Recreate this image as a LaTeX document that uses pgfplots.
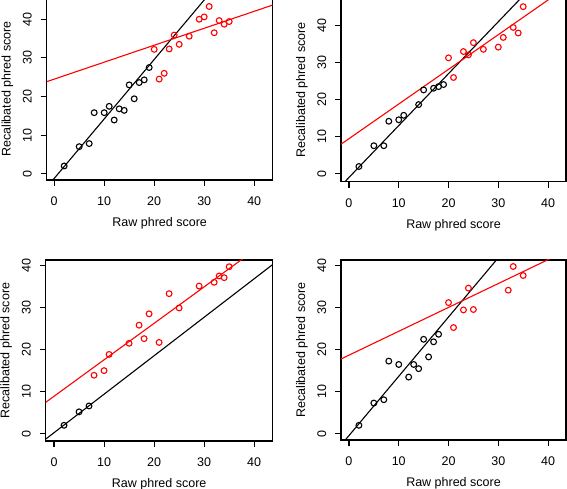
\documentclass[border=0pt]{standalone}
\usepackage{fontspec}
\setmainfont{Liberation Sans}
\usepackage{pgfplots}
\pgfplotsset{compat=1.18}
\pgfplotsset{
  panel/.style={
    scale only axis,
    anchor=south west,
    axis line style={line width=1.1bp},
    tick style={line width=1.1bp, black},
    tick align=outside,
    major tick length=6bp,
    xtick pos=left, ytick pos=left,
    xtick={0,10,20,30,40}, ytick={0,10,20,30,40},
    /pgf/number format/assume math mode=true,
    tick label style={font=\fontsize{12.5bp}{15bp}\selectfont},
    xticklabel style={anchor=center, yshift=-15.5bp},
    yticklabel style={anchor=center, xshift=-13.3bp, rotate=90},
    label style={font=\fontsize{12.5bp}{15bp}\selectfont},
    xlabel={Raw phred score},
    ylabel={Recalibated phred score},
    xlabel style={at={(axis description cs:0.5,0)}, anchor=center, yshift=-43.5bp},
    ylabel style={at={(axis description cs:-0.174,0.5)}, anchor=center},
  },
  pb/.style={black, only marks, mark=o, mark size=2.9bp, mark options={line width=1.1bp}},
  pr/.style={red, only marks, mark=o, mark size=2.9bp, mark options={line width=1.1bp}},
  lb/.style={black, line width=1.1bp, no marks},
  lr/.style={red, line width=1.1bp, no marks},
}
\begin{document}
\begin{tikzpicture}
\path[use as bounding box] (0,0) rectangle (567bp,489bp);
% Panel 1 (top left)
\begin{axis}[panel, at={(46.7bp,309bp)}, width=226bp, height=182bp,
  xmin=-1.5, xmax=43.7, ymin=-1.63, ymax=45.5]
\addplot[pb] coordinates {(2,2) (5,7.0) (7,7.8) (8,15.8) (10,15.8) (11,17.45) (12,13.9) (13,16.8) (14,16.4) (15,23.0) (16,19.4) (17,23.6) (18,24.3) (19,27.5)};
\addplot[pr] coordinates {(20,32.2) (21,24.5) (22,26.0) (23,32.3) (24,35.9) (25,33.5) (27,35.6) (29,40.0) (30,40.6) (31,43.3) (32,36.5) (33,39.65) (34,38.7) (35,39.4)};
\addplot[lb] coordinates {(-5,-8.92) (50,75.78)};
\addplot[lr] coordinates {(-5,22.295) (50,46.44)};
\end{axis}
% Panel 2 (top right)
\begin{axis}[panel, at={(341bp,307.3bp)}, width=225bp, height=183.7bp,
  xmin=-1.6, xmax=43.6, ymin=-2.1, ymax=47.44]
\addplot[pb] coordinates {(2,2) (5,7.6) (7,7.6) (8,14.2) (10,14.6) (11,15.8) (14,18.7) (15,22.65) (17,23.1) (18,23.55) (19,24.1)};
\addplot[pr] coordinates {(20,31.3) (21,26.0) (23,33.0) (24,32.1) (25,35.4) (27,33.6) (30,34.2) (31,36.8) (33,39.5) (34,38.0) (35,45.1)};
\addplot[lb] coordinates {(-5,-7.96) (50,69.04)};
\addplot[lr] coordinates {(-5,4.825) (50,56.25)};
\end{axis}
% Panel 3 (bottom left)
\begin{axis}[panel, at={(45.7bp,48bp)}, width=227bp, height=181bp,
  xmin=-1.66, xmax=43.7, ymin=-1.73, ymax=41.3]
\addplot[pb] coordinates {(2,2) (5,5.2) (7,6.6)};
\addplot[pr] coordinates {(8,13.9) (10,15.0) (11,18.85) (15,21.5) (17,25.8) (18,22.6) (19,28.5) (21,21.7) (23,33.3) (25,29.9) (29,35.1) (32,36.0) (33,37.5) (34,37.1) (35,39.7)};
\addplot[lb] coordinates {(-5,-4.335) (50,45.99)};
\addplot[lr] coordinates {(-5,4.565) (50,52.25)};
\end{axis}
% Panel 4 (bottom right)
\begin{axis}[panel, at={(341bp,49bp)}, width=225bp, height=180bp,
  xmin=-1.6, xmax=43.6, ymin=-1.5, ymax=41.4]
\addplot[pb] coordinates {(2,2) (5,7.3) (7,8.1) (8,17.3) (10,16.5) (12,13.5) (13,16.5) (14,15.5) (15,22.5) (16,18.3) (17,21.9) (18,23.7)};
\addplot[pr] coordinates {(20,31.25) (21,25.3) (23,29.5) (24,34.7) (25,29.6) (32,34.2) (33,39.85) (35,37.7)};
\addplot[lb] coordinates {(-5,-7.515) (50,70.2)};
\addplot[lr] coordinates {(-5,15.875) (50,47.17)};
\end{axis}
\end{tikzpicture}
\end{document}
